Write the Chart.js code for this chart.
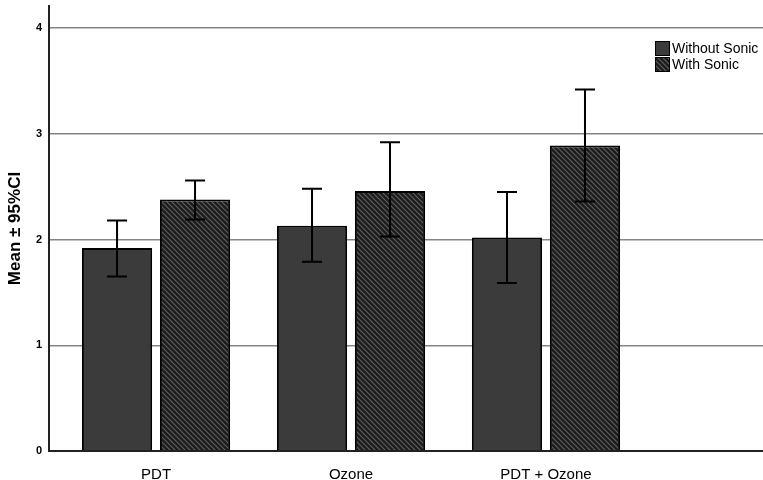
<!DOCTYPE html>
<html>
<head>
<meta charset="utf-8">
<script src="https://cdn.jsdelivr.net/npm/chart.js@4"></script>
<style>
  html, body { margin: 0; padding: 0; background: #fff; }
  #wrap { width: 763px; height: 480px; }
</style>
</head>
<body>
<div id="wrap"><canvas id="chart" width="763" height="480"></canvas></div>
<script>
const categories = ["PDT", "Ozone", "PDT + Ozone"];
const seriesNames = ["Without Sonic", "With Sonic"];
const withoutMean = [1.92, 2.13, 2.02];
const withoutLow = [1.65, 1.79, 1.59];
const withoutHigh = [2.18, 2.48, 2.45];
const withMean = [2.38, 2.46, 2.89];
const withLow = [2.19, 2.03, 2.36];
const withHigh = [2.56, 2.92, 3.42];
const yTicks = [0, 1, 2, 3, 4];

// hatch for "With Sonic"
function makeHatch() {
  const c = document.createElement("canvas");
  c.width = 5; c.height = 5;
  const g = c.getContext("2d");
  g.fillStyle = "#1c1c1c";
  g.fillRect(0, 0, 5, 5);
  g.strokeStyle = "#5e5e5e";
  g.lineWidth = 1.2;
  g.beginPath();
  g.moveTo(-1, -1); g.lineTo(6, 6);
  g.moveTo(-1, 4); g.lineTo(1, 6);
  g.moveTo(4, -1); g.lineTo(6, 1);
  g.stroke();
  return g.createPattern(c, "repeat");
}
const hatch = makeHatch();
const solid = "#3b3b3b";

const toPoints = arr => arr.map((v, i) => ({ x: i, y: v }));

const errorBars = {
  id: "errorBars",
  afterDatasetsDraw(chart) {
    const ctx = chart.ctx;
    const y = chart.scales.y;
    const ranges = [[withoutLow, withoutHigh], [withLow, withHigh]];
    ctx.save();
    ctx.strokeStyle = "#000";
    ctx.lineWidth = 2;
    ranges.forEach((r, d) => {
      chart.getDatasetMeta(d).data.forEach((bar, i) => {
        const x = bar.x;
        const yl = y.getPixelForValue(r[0][i]);
        const yh = y.getPixelForValue(r[1][i]);
        ctx.beginPath();
        ctx.moveTo(x, yl); ctx.lineTo(x, yh);
        ctx.moveTo(x - 10, yl); ctx.lineTo(x + 10, yl);
        ctx.moveTo(x - 10, yh); ctx.lineTo(x + 10, yh);
        ctx.stroke();
      });
    });
    ctx.restore();
  }
};

const boxLegend = {
  id: "boxLegend",
  afterDraw(chart) {
    const ctx = chart.ctx;
    const fills = [solid, hatch];
    ctx.save();
    ctx.font = "14px 'Liberation Sans', Arial, sans-serif";
    ctx.textBaseline = "middle";
    seriesNames.forEach((name, i) => {
      const top = 41 + i * 16;
      ctx.fillStyle = fills[i];
      ctx.fillRect(655, top, 15, 15);
      ctx.strokeStyle = "#000";
      ctx.lineWidth = 1;
      ctx.strokeRect(655.5, top + 0.5, 14, 14);
      ctx.fillStyle = "#000";
      ctx.fillText(name, 672, top + 8);
    });
    ctx.restore();
  }
};

new Chart(document.getElementById("chart"), {
  type: "bar",
  data: {
    datasets: [
      {
        label: seriesNames[0],
        data: toPoints(withoutMean),
        backgroundColor: solid,
        borderColor: "#000",
        borderWidth: 2,
        categoryPercentage: 0.8,
        barPercentage: 0.9
      },
      {
        label: seriesNames[1],
        data: toPoints(withMean),
        backgroundColor: hatch,
        borderColor: "#000",
        borderWidth: 2,
        categoryPercentage: 0.8,
        barPercentage: 0.9
      }
    ]
  },
  options: {
    responsive: false,
    animation: false,
    layout: { padding: { top: 6, left: 0, right: 0, bottom: 0 } },
    plugins: {
      legend: { display: false },
      tooltip: { enabled: false }
    },
    scales: {
      x: {
        type: "linear",
        offset: false,
        min: -0.549,
        max: 3.113,
        grid: { display: false },
        border: { color: "#222", width: 2 },
        afterBuildTicks: s => { s.ticks = categories.map((c, i) => ({ value: i })); },
        afterFit: s => { s.height = 29; s.paddingLeft = 0; s.paddingRight = 0; },
        ticks: {
          callback: v => categories[v],
          color: "#000",
          padding: 7,
          maxRotation: 0,
          autoSkip: false,
          font: { family: "'Liberation Sans', Arial, sans-serif", size: 15 }
        }
      },
      y: {
        min: 0,
        max: 4.21,
        afterBuildTicks: s => { s.ticks = yTicks.map(v => ({ value: v })); },
        afterFit: s => { s.width = 49; s.paddingTop = 0; s.paddingBottom = 0; },
        grid: { color: "#858585", lineWidth: 1.5, drawTicks: false },
        border: { color: "#222", width: 2 },
        ticks: {
          color: "#000",
          padding: 7,
          font: { family: "'Liberation Sans', Arial, sans-serif", size: 11, weight: "bold" }
        },
        title: {
          display: true,
          text: "Mean ± 95%CI",
          color: "#000",
          padding: { top: 5, bottom: 0 },
          font: { family: "'Liberation Sans', Arial, sans-serif", size: 17, weight: "bold" }
        }
      }
    }
  },
  plugins: [errorBars, boxLegend]
});
</script>
</body>
</html>
